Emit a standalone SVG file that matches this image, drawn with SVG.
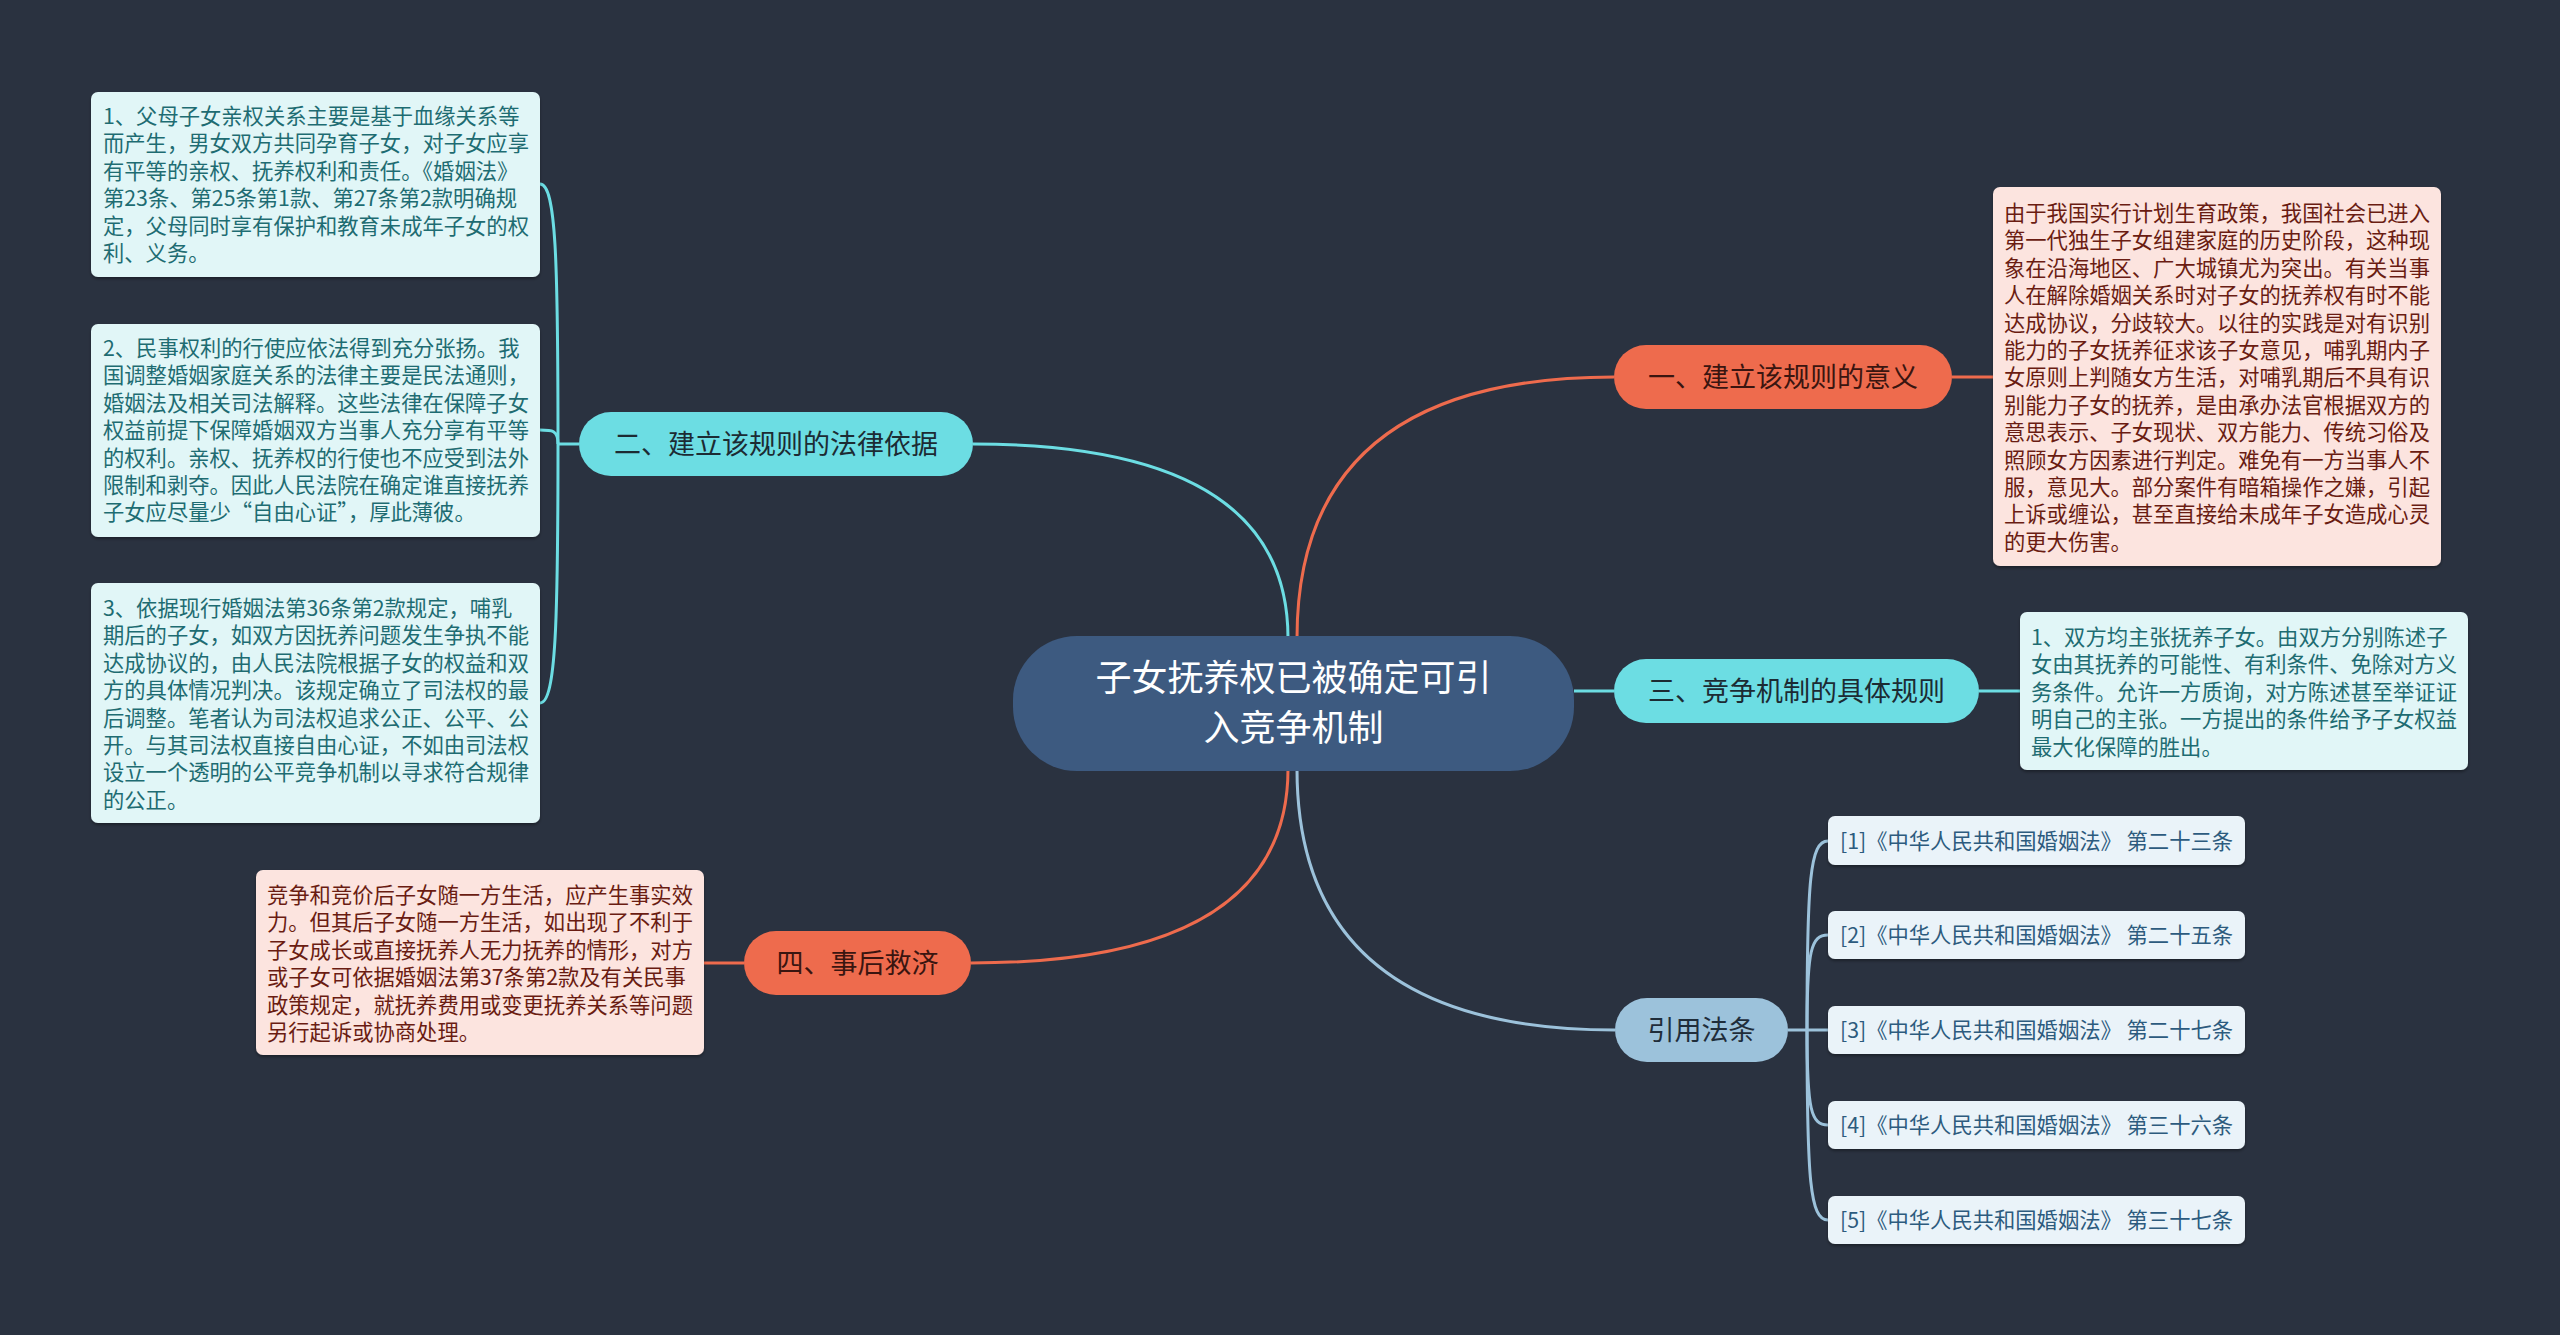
<svg xmlns="http://www.w3.org/2000/svg" width="2560" height="1335" viewBox="0 0 2560 1335">
<style>
text{font-family:"Noto Sans CJK SC","Noto Sans",sans-serif;}
.leafc{fill:#E1F6F7;}
.leafo{fill:#FCE4DF;}
.leafr{fill:#EAF3F9;}
.tc{fill:#1E6C72;font-size:21.3px;}
.to{fill:#6A1C12;font-size:21.3px;}
.tr{fill:#2D5B7E;font-size:21.3px;}
.nt{font-size:27px;text-anchor:middle;}
.lc{fill:none;stroke:#6CDDE3;stroke-width:3;}
.lo{fill:none;stroke:#EE6B4D;stroke-width:3;}
.lb{fill:none;stroke:#9CC2DB;stroke-width:3;}
</style>
<defs>
<filter id="sh" x="-5%" y="-5%" width="110%" height="115%">
<feDropShadow dx="0" dy="2" stdDeviation="1.5" flood-color="#000" flood-opacity="0.35"/>
</filter>
</defs>
<rect width="2560" height="1335" fill="#2A3240"/>

<g id="connectors">
<path class="lo" d="M1297,638 Q1297,377 1614,377"/>
<path class="lc" d="M1288,638 Q1288,444 973,444"/>
<path class="lc" d="M1574,691 L1614,691"/>
<path class="lo" d="M1288,769 Q1288,963 971,963"/>
<path class="lb" d="M1297,769 Q1297,1030 1615,1030"/>
<path class="lo" d="M1952,377 L1993,377"/>
<path class="lc" d="M1979,691 L2020,691"/>
<path class="lo" d="M744,963 L704,963"/>
<path class="lc" d="M579,444 L558,444"/>
<path class="lc" d="M558,444 C558,260 556,184 540,184"/>
<path class="lc" d="M558,444 C558,430 552,430 540,430"/>
<path class="lc" d="M558,444 C558,620 556,703 540,703"/>
<path class="lb" d="M1788,1030 L1807,1030"/>
<path class="lb" d="M1807,1030 C1807,880 1810,841 1828,841"/>
<path class="lb" d="M1807,1030 C1807,950 1811,935 1828,935"/>
<path class="lb" d="M1807,1030 L1828,1030"/>
<path class="lb" d="M1807,1030 C1807,1110 1811,1125 1828,1125"/>
<path class="lb" d="M1807,1030 C1807,1180 1810,1220 1828,1220"/>
</g>

<g id="center">
<rect x="1013" y="636" width="561" height="135" rx="64" fill="#3D5A80"/>
<text x="1293.5" y="691" font-size="36" fill="#FFFFFF" text-anchor="middle">子女抚养权已被确定可引</text>
<text x="1293.5" y="741" font-size="36" fill="#FFFFFF" text-anchor="middle">入竞争机制</text>
</g>

<g id="n1">
<rect x="1614" y="345" width="338" height="64" rx="32" fill="#EE6B4D"/>
<text class="nt" x="1783" y="387" fill="#3A1510">一、建立该规则的意义</text>
</g>
<g id="n2">
<rect x="579" y="412" width="394" height="64" rx="32" fill="#6CDDE3"/>
<text class="nt" x="776" y="454" fill="#1C2B33">二、建立该规则的法律依据</text>
</g>
<g id="n3">
<rect x="1614" y="659" width="365" height="64" rx="32" fill="#6CDDE3"/>
<text class="nt" x="1796.5" y="701" fill="#1C2B33">三、竞争机制的具体规则</text>
</g>
<g id="n4">
<rect x="744" y="931" width="227" height="64" rx="32" fill="#EE6B4D"/>
<text class="nt" x="857.5" y="973" fill="#3A1510">四、事后救济</text>
</g>
<g id="n5">
<rect x="1615" y="998" width="173" height="64" rx="32" fill="#9CC2DB"/>
<text class="nt" x="1701.5" y="1040" fill="#1F2D3A">引用法条</text>
</g>

<g id="leaf1a">
<rect class="leafc" x="91" y="92" width="449" height="185" rx="7" filter="url(#sh)"/>
<text class="tc" x="103" y="124">
<tspan x="103">1、父母子女亲权关系主要是基于血缘关系等</tspan>
<tspan x="103" dy="27.4">而产生，男女双方共同孕育子女，对子女应享</tspan>
<tspan x="103" dy="27.4">有平等的亲权、抚养权利和责任。《婚姻法》</tspan>
<tspan x="103" dy="27.4">第23条、第25条第1款、第27条第2款明确规</tspan>
<tspan x="103" dy="27.4">定，父母同时享有保护和教育未成年子女的权</tspan>
<tspan x="103" dy="27.4">利、义务。</tspan>
</text>
</g>
<g id="leaf2a">
<rect class="leafc" x="91" y="324" width="449" height="213" rx="7" filter="url(#sh)"/>
<text class="tc" x="103" y="356">
<tspan x="103">2、民事权利的行使应依法得到充分张扬。我</tspan>
<tspan x="103" dy="27.4">国调整婚姻家庭关系的法律主要是民法通则，</tspan>
<tspan x="103" dy="27.4">婚姻法及相关司法解释。这些法律在保障子女</tspan>
<tspan x="103" dy="27.4">权益前提下保障婚姻双方当事人充分享有平等</tspan>
<tspan x="103" dy="27.4">的权利。亲权、抚养权的行使也不应受到法外</tspan>
<tspan x="103" dy="27.4">限制和剥夺。因此人民法院在确定谁直接抚养</tspan>
<tspan x="103" dy="27.4">子女应尽量少“自由心证”，厚此薄彼。</tspan>
</text>
</g>
<g id="leaf2b">
<rect class="leafc" x="91" y="583" width="449" height="240" rx="7" filter="url(#sh)"/>
<text class="tc" x="103" y="616">
<tspan x="103">3、依据现行婚姻法第36条第2款规定，哺乳</tspan>
<tspan x="103" dy="27.4">期后的子女，如双方因抚养问题发生争执不能</tspan>
<tspan x="103" dy="27.4">达成协议的，由人民法院根据子女的权益和双</tspan>
<tspan x="103" dy="27.4">方的具体情况判决。该规定确立了司法权的最</tspan>
<tspan x="103" dy="27.4">后调整。笔者认为司法权追求公正、公平、公</tspan>
<tspan x="103" dy="27.4">开。与其司法权直接自由心证，不如由司法权</tspan>
<tspan x="103" dy="27.4">设立一个透明的公平竞争机制以寻求符合规律</tspan>
<tspan x="103" dy="27.4">的公正。</tspan>
</text>
</g>
<g id="leaf1">
<rect class="leafo" x="1993" y="187" width="448" height="379" rx="7" filter="url(#sh)"/>
<text class="to" x="2004" y="221">
<tspan x="2004">由于我国实行计划生育政策，我国社会已进入</tspan>
<tspan x="2004" dy="27.4">第一代独生子女组建家庭的历史阶段，这种现</tspan>
<tspan x="2004" dy="27.4">象在沿海地区、广大城镇尤为突出。有关当事</tspan>
<tspan x="2004" dy="27.4">人在解除婚姻关系时对子女的抚养权有时不能</tspan>
<tspan x="2004" dy="27.4">达成协议，分歧较大。以往的实践是对有识别</tspan>
<tspan x="2004" dy="27.4">能力的子女抚养征求该子女意见，哺乳期内子</tspan>
<tspan x="2004" dy="27.4">女原则上判随女方生活，对哺乳期后不具有识</tspan>
<tspan x="2004" dy="27.4">别能力子女的抚养，是由承办法官根据双方的</tspan>
<tspan x="2004" dy="27.4">意思表示、子女现状、双方能力、传统习俗及</tspan>
<tspan x="2004" dy="27.4">照顾女方因素进行判定。难免有一方当事人不</tspan>
<tspan x="2004" dy="27.4">服，意见大。部分案件有暗箱操作之嫌，引起</tspan>
<tspan x="2004" dy="27.4">上诉或缠讼，甚至直接给未成年子女造成心灵</tspan>
<tspan x="2004" dy="27.4">的更大伤害。</tspan>
</text>
</g>
<g id="leaf3">
<rect class="leafc" x="2020" y="612" width="448" height="158" rx="7" filter="url(#sh)"/>
<text class="tc" x="2031" y="645">
<tspan x="2031">1、双方均主张抚养子女。由双方分别陈述子</tspan>
<tspan x="2031" dy="27.4">女由其抚养的可能性、有利条件、免除对方义</tspan>
<tspan x="2031" dy="27.4">务条件。允许一方质询，对方陈述甚至举证证</tspan>
<tspan x="2031" dy="27.4">明自己的主张。一方提出的条件给予子女权益</tspan>
<tspan x="2031" dy="27.4">最大化保障的胜出。</tspan>
</text>
</g>
<g id="leaf4">
<rect class="leafo" x="256" y="870" width="448" height="185" rx="7" filter="url(#sh)"/>
<text class="to" x="267" y="903">
<tspan x="267">竞争和竞价后子女随一方生活，应产生事实效</tspan>
<tspan x="267" dy="27.4">力。但其后子女随一方生活，如出现了不利于</tspan>
<tspan x="267" dy="27.4">子女成长或直接抚养人无力抚养的情形，对方</tspan>
<tspan x="267" dy="27.4">或子女可依据婚姻法第37条第2款及有关民事</tspan>
<tspan x="267" dy="27.4">政策规定，就抚养费用或变更抚养关系等问题</tspan>
<tspan x="267" dy="27.4">另行起诉或协商处理。</tspan>
</text>
</g>
<g id="ref1">
<rect class="leafr" x="1828" y="816" width="417" height="49" rx="7" filter="url(#sh)"/>
<text class="tr" x="1840" y="849">[1]《中华人民共和国婚姻法》 第二十三条</text>
</g>
<g id="ref2">
<rect class="leafr" x="1828" y="911" width="417" height="48" rx="7" filter="url(#sh)"/>
<text class="tr" x="1840" y="943">[2]《中华人民共和国婚姻法》 第二十五条</text>
</g>
<g id="ref3">
<rect class="leafr" x="1828" y="1006" width="417" height="48" rx="7" filter="url(#sh)"/>
<text class="tr" x="1840" y="1038">[3]《中华人民共和国婚姻法》 第二十七条</text>
</g>
<g id="ref4">
<rect class="leafr" x="1828" y="1101" width="417" height="48" rx="7" filter="url(#sh)"/>
<text class="tr" x="1840" y="1133">[4]《中华人民共和国婚姻法》 第三十六条</text>
</g>
<g id="ref5">
<rect class="leafr" x="1828" y="1196" width="417" height="48" rx="7" filter="url(#sh)"/>
<text class="tr" x="1840" y="1228">[5]《中华人民共和国婚姻法》 第三十七条</text>
</g>
</svg>
